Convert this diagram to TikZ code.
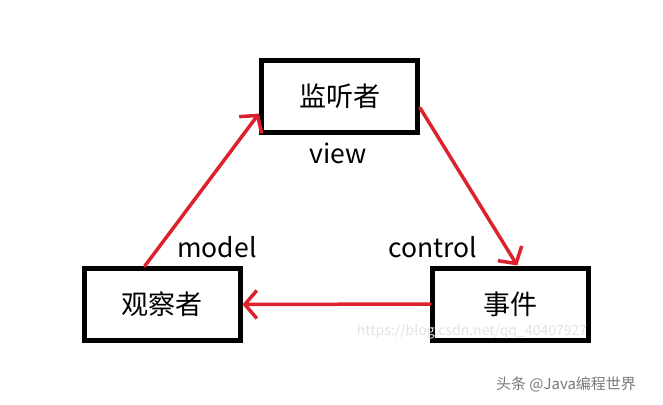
\documentclass[tikz,border=0pt]{standalone}
\usepackage{fontspec}
\usepackage{tikz}
\usetikzlibrary{arrows.meta,positioning}
\newfontfamily\cjk{Noto Sans CJK SC}
\definecolor{linkred}{RGB}{220,34,46}
\definecolor{markgray}{RGB}{120,120,120}
\tikzset{
    role/.style={rectangle, draw=black, line width=5pt, fill=white, minimum width=156pt, minimum height=72pt, font=\cjk\fontsize{27}{30}\selectfont},
    link/.style={draw=linkred, line width=3.5pt, line cap=round, -{Straight Barb[length=12pt, width=28pt, line width=3.5pt]}},
    tag/.style={font=\cjk\fontsize{26.5}{28}\selectfont},
    wmark/.style={font=\cjk\fontsize{15}{17}\selectfont, text=markgray},
}
\begin{document}
\begin{tikzpicture}[x=1pt, y=-1pt]
    \useasboundingbox (0,0) rectangle (663,404);
    % roles
    \node[role] (lis) at (339.5, 96.5) {监听者};
    \node[role] (obs) at (162, 304.5) {观察者};
    \node[role] (evt) at (510.5, 304) {事件};
    % labels
    \node[tag] (view) at (338, 153) {view};
    \node[tag] (model) at (217, 247) {model};
    \node[tag] (ctrl) at (433, 247) {control};
    % links
    \draw[link] (obs.114) -- (lis.192);
    \draw[link] (lis.-8) -- (evt.80);
    \draw[link] (evt.west) -- (obs.east);
    % watermarks
    \node[font=\cjk\fontsize{14}{16}\selectfont, text=gray!22] (csdn) at (472, 332) {https://blog.csdn.net/qq\_40407927};
    \node[wmark] (src) at (566, 384) {头条 @Java编程世界};
\end{tikzpicture}
\end{document}
